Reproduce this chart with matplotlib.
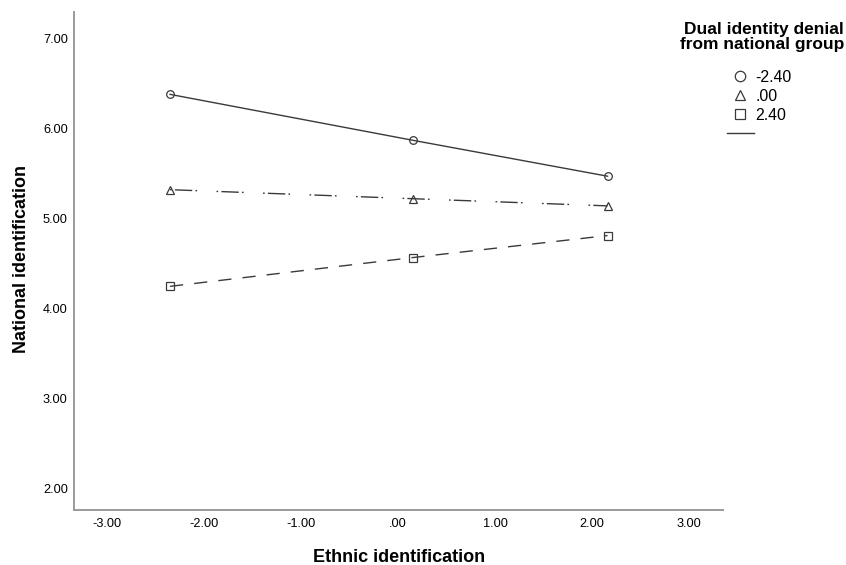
import matplotlib
matplotlib.use("Agg")
import matplotlib.pyplot as plt
from matplotlib.lines import Line2D

plt.rcParams["font.family"] = ["Liberation Sans", "DejaVu Sans"]
plt.rcParams["lines.scale_dashes"] = False

# simple slopes: national identification by ethnic identification
ethnic_x = [-2.35, 0.15, 2.16]
denial_levels = ["-2.40", ".00", "2.40"]
national_low = [6.38, 5.87, 5.47]    # denial = -2.40
national_mid = [5.32, 5.22, 5.14]    # denial = .00
national_high = [4.245, 4.565, 4.81]  # denial = 2.40
x_ticks = [-3, -2, -1, 0, 1, 2, 3]
y_ticks = [2, 3, 4, 5, 6, 7]


def fmt(v):
    s = f"{v:.2f}"
    return s.replace("0.", ".", 1) if s.startswith("0.") else s


LINE = "#3a3a3a"
SPINE = "#9a9a9a"

fig = plt.figure(figsize=(8.46, 5.65), dpi=100)
ax = fig.add_axes([74 / 846, 1 - 510 / 565, (723 - 74) / 846, (510 - 12) / 565])

styles = [
    (national_low, "o", "-"),
    (national_mid, "^", (0, (1.2, 2.3, 12.5, 2.3, 1.2, 14))),
    (national_high, "s", (0, (9.5, 8))),
]
for vals, mk, ls in styles:
    ax.plot(ethnic_x, vals, color=LINE, lw=1.0, ls=ls, marker=mk, ms=5.5,
            mfc="none", mec=LINE, mew=0.9)

ax.set_xlim(-3.34, 3.35)
ax.set_ylim(1.758, 7.296)
ax.set_xticks(x_ticks)
ax.set_xticklabels([fmt(v) for v in x_ticks])
ax.set_yticks(y_ticks)
ax.set_yticklabels([fmt(v) for v in y_ticks])
ax.tick_params(length=0, labelsize=9.2)
ax.tick_params(axis="x", pad=5.5)
ax.tick_params(axis="y", pad=4.5)
for s in ("top", "right"):
    ax.spines[s].set_visible(False)
for s in ("left", "bottom"):
    ax.spines[s].set_color(SPINE)
    ax.spines[s].set_linewidth(1.4)

fig.text(399 / 846, 1 - 557 / 565, "Ethnic identification", ha="center", va="center",
         fontsize=13, fontweight="bold")
fig.text(22 / 846, 1 - 259 / 565, "National identification", ha="center", va="center",
         rotation=90, fontsize=13, fontweight="bold")

# legend
fig.text(844 / 846, 1 - 37 / 565, "Dual identity denial\nfrom national group", ha="right",
         va="center", fontsize=12.5, fontweight="bold", linespacing=1.0)
handles = [Line2D([], [], ls="none", marker=m, ms=7.5, mfc="none", mec=LINE, mew=0.9)
           for m in ("o", "^", "s")]
handles.append(Line2D([], [], color=LINE, lw=1.0))
leg = fig.legend(handles, denial_levels + [""], loc="upper left",
                 bbox_to_anchor=(727 / 846, 1 - 70 / 565), frameon=False,
                 fontsize=11.4, handlelength=1.7, handletextpad=0.1,
                 labelspacing=0.25, borderpad=0, borderaxespad=0)

fig.savefig("out.png", dpi=100)
